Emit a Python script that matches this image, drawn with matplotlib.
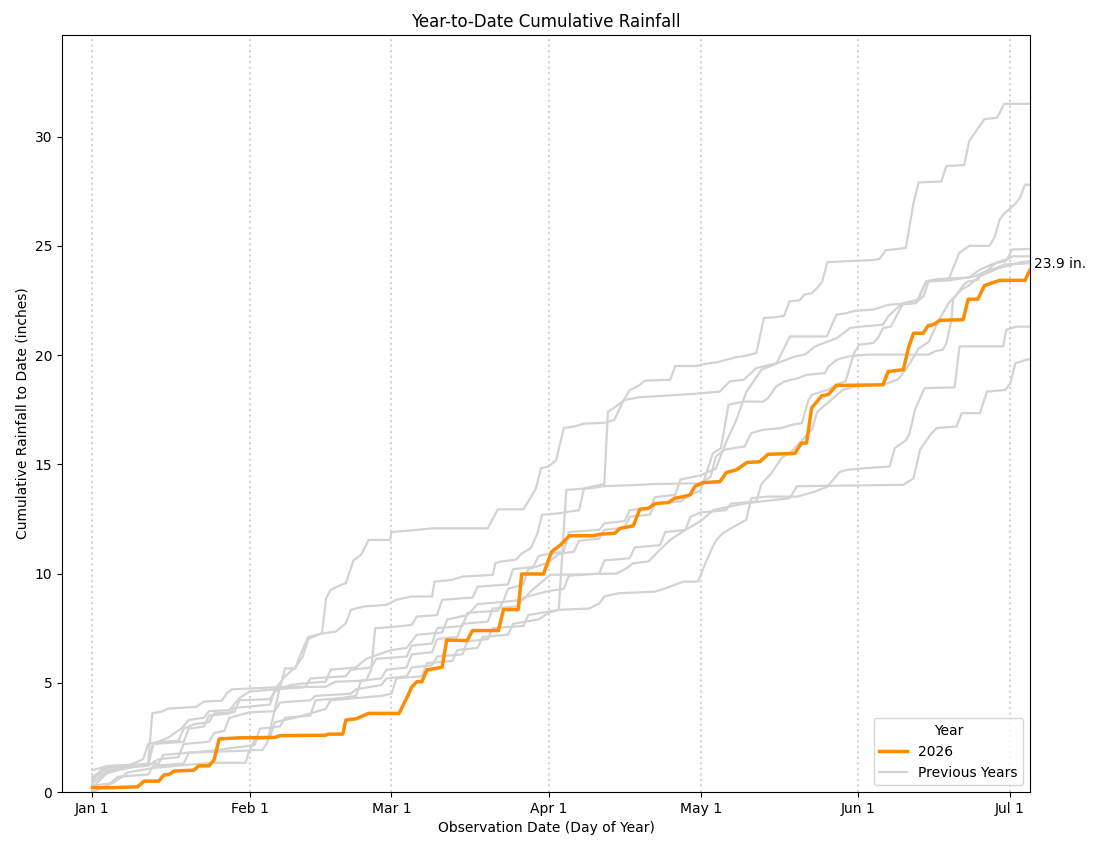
import numpy as np
import matplotlib.pyplot as plt

# day-of-year, cumulative inches
rain_2026 = [(1, 0.2), (5, 0.2), (9.9, 0.24), (11.2, 0.5), (14.1, 0.5), (15.1, 0.78), (16.1, 0.8),
             (17.1, 0.96), (21, 1.0), (22, 1.2), (24, 1.2), (25, 1.47), (26, 2.43), (29.9, 2.48),
             (37, 2.5), (38, 2.58), (47, 2.6), (47.5, 2.65), (50.4, 2.65), (51, 3.3), (53, 3.35),
             (54, 3.45), (55.5, 3.6), (61.5, 3.6), (62, 3.83), (63, 4.3), (64, 4.8), (65, 5.05),
             (66, 5.05), (67, 5.59), (70, 5.71), (70.9, 6.96), (74.9, 6.93), (76, 7.39), (81.1, 7.39),
             (82.1, 8.35), (85, 8.35), (85.7, 9.98), (90, 9.98), (91.6, 11.0), (93.3, 11.3),
             (95.1, 11.73), (99.8, 11.73), (101.2, 11.8), (104.1, 11.85), (105.1, 12.07),
             (107.7, 12.18), (109, 12.94), (110.7, 12.99), (112, 13.2), (114.6, 13.25),
             (115.9, 13.45), (117.6, 13.52), (118.9, 13.6), (119.9, 14.0), (121.5, 14.16),
             (124.8, 14.21), (126.1, 14.63), (128.1, 14.75), (130.1, 15.08), (132.7, 15.12),
             (134.3, 15.46), (139.6, 15.5), (140.9, 15.97), (141.9, 15.97), (142.9, 17.58),
             (144.9, 18.14), (146.2, 18.19), (147.8, 18.61), (157, 18.64), (158, 19.25),
             (161, 19.33), (162, 20.32), (163, 21.0), (164.9, 21.0), (165.9, 21.35), (166.9, 21.39),
             (168.2, 21.59), (172.8, 21.62), (173.8, 22.56), (175.7, 22.56), (177, 23.18),
             (180, 23.42), (185, 23.42), (186, 23.9)]

prev_a = [(1, 0.3), (5, 0.4), (8, 0.9), (13, 1.1), (20, 1.25), (25, 1.34), (31.2, 1.34), (32, 1.92),
          (34.5, 1.92), (35.5, 2.26), (36.8, 3.6), (38, 4.8), (39, 5.66), (41, 5.66), (42.3, 6.43),
          (43.6, 7.1), (46.3, 7.26), (47.1, 8.87), (48, 9.25), (50, 9.48), (51, 9.56), (52.5, 10.6),
          (54, 10.86), (55.5, 11.54), (59.7, 11.54), (60, 11.9), (65, 12.0), (68, 12.07), (79, 12.07),
          (81, 12.94), (86, 12.94), (87, 13.3), (88.5, 13.9), (89.5, 14.82), (91, 14.9), (92.5, 15.2),
          (94, 16.66), (96, 16.73), (98, 16.86), (102, 16.9), (104, 17.04), (105.5, 17.8), (107, 18.4),
          (108, 18.5), (109, 18.64), (110, 18.83), (115, 18.87), (116, 19.5), (120, 19.5), (122, 19.6),
          (124, 19.66), (128, 19.9), (130.5, 20.0), (132, 20.1), (133.5, 21.7), (136, 21.74),
          (137.5, 21.8), (138.5, 22.46), (140.5, 22.5), (141.5, 22.77), (143, 22.84), (144, 23.07),
          (145, 23.37), (146, 24.25), (150, 24.3), (155, 24.35), (156.3, 24.4), (157.5, 24.8),
          (161.5, 24.9), (163, 26.96), (164, 27.9), (168.5, 27.95), (169.5, 28.65), (173, 28.7),
          (174, 29.8), (177, 30.8), (179.5, 30.86), (180.9, 31.5), (186, 31.5)]

prev_b = [(1, 0.5), (3, 1.1), (8, 1.2), (11, 1.5), (12, 2.2), (14, 2.3), (16, 2.5), (18.5, 2.9),
          (20, 3.3), (23, 3.4), (24, 3.7), (28, 3.75), (30, 4.3), (32, 4.6), (37, 4.7), (39, 5.3),
          (41, 5.7), (42.5, 6.2), (43.6, 7.0), (46, 7.25), (49, 7.34), (51, 7.72), (52, 8.34),
          (54.5, 8.49), (59, 8.57), (61, 8.8), (64, 8.95), (68, 8.95), (68.5, 9.63), (72, 9.71),
          (74, 9.86), (80, 9.94), (80.5, 10.47), (81.5, 10.55), (84.5, 10.63), (85.8, 10.93),
          (87.5, 11.16), (88.8, 11.84), (89.7, 12.69), (93, 12.76), (97, 12.9), (98, 13.9),
          (102, 14.1), (102.7, 17.4), (104, 17.6), (106, 17.95), (109, 18.07), (120, 18.23),
          (124.8, 18.33), (126.8, 18.8), (129.5, 18.87), (132, 19.4), (136, 19.63), (138.6, 20.85),
          (145.9, 20.85), (147.8, 21.85), (149.8, 21.92), (151.5, 22.03), (155, 22.08), (158, 22.3),
          (163.5, 22.4), (165, 22.7), (166, 23.4), (170, 23.5), (171.5, 24.37), (172, 24.67),
          (174, 25.0), (178, 25.0), (179, 25.4), (180, 26.2), (181, 26.5), (183, 26.9), (184, 27.2),
          (185, 27.8), (186, 27.8)]

prev_c = [(1, 0.7), (3, 1.0), (5, 1.15), (8, 1.2), (12, 1.3), (12.8, 3.6), (14.5, 3.67), (16, 3.82),
          (21.5, 3.9), (23, 4.14), (26.5, 4.18), (27.5, 4.52), (28.5, 4.7), (32, 4.74), (38, 4.8),
          (47, 4.82), (49, 5.05), (55, 5.1), (56, 5.6), (56.8, 7.5), (60, 7.55), (64, 7.65),
          (65, 8.03), (69, 8.1), (70, 8.8), (76, 8.9), (77, 9.4), (83, 9.5), (84, 10.2), (88, 10.3),
          (89, 10.8), (91, 10.9), (94, 11.0), (95, 11.9), (101, 12.0), (102, 12.3), (106, 12.4),
          (107, 12.9), (111, 13.0), (112, 13.5), (116, 13.6), (117, 14.3), (121, 14.5), (124, 14.8),
          (126, 16.0), (128, 17.0), (130, 18.3), (133, 19.33), (137, 19.71), (139.6, 19.94),
          (141.6, 20.02), (143.6, 20.4), (147.9, 20.78), (150.5, 21.24), (152.5, 21.3), (157, 21.39),
          (158, 21.77), (160.5, 22.31), (163.5, 22.38), (165.5, 23.37), (167.8, 23.48), (174, 23.55),
          (176, 23.9), (179, 24.2), (181.5, 24.4), (182.5, 24.83), (186, 24.86)]

prev_d = [(1, 0.2), (4, 0.9), (7, 1.1), (12, 1.2), (14, 1.5), (18, 1.6), (19, 2.2), (24, 2.3),
          (25, 2.7), (27, 2.8), (28, 3.4), (32, 3.65), (37, 3.7), (38, 4.1), (44, 4.2), (45, 4.4),
          (52, 4.5), (53, 4.7), (58, 4.9), (59, 5.2), (63, 5.3), (64, 5.7), (68, 5.8), (69, 6.2),
          (74, 6.3), (75, 6.9), (79, 7.0), (80, 7.5), (86, 7.6), (87, 8.1), (93, 8.34), (94.5, 13.83),
          (99, 13.9), (102, 14.0), (108, 14.05), (112, 14.1), (121, 14.13), (123, 14.44), (124, 15.36),
          (125.7, 15.67), (129.7, 15.82), (131, 16.43), (133.3, 16.58), (137, 16.66), (139, 16.81),
          (141, 16.89), (142.3, 17.96), (143, 18.19), (146.3, 18.42), (147.6, 18.64), (149.6, 18.8),
          (151.3, 20.1), (152.3, 20.48), (155, 20.55), (156, 20.78), (157, 21.24), (158.5, 21.3),
          (161, 22.38), (164, 22.54), (165.5, 23.37), (170, 23.42), (175, 23.6), (177, 23.8),
          (179.5, 24.0), (181, 24.15), (186, 24.2)]

prev_e = [(1, 0.6), (3, 0.9), (6, 1.1), (10, 1.2), (12, 1.25), (13, 2.2), (15, 2.3), (18, 2.35),
          (19, 2.9), (21, 3.1), (24, 3.2), (25, 3.6), (29, 3.65), (30, 4.2), (36, 4.25), (37, 4.6),
          (40, 4.9), (44, 5.0), (47, 5.05), (48, 5.6), (53, 5.7), (55, 6.1), (60, 6.5), (63, 6.6),
          (65, 7.2), (70, 7.3), (71, 7.9), (75, 8.1), (77, 8.6), (82, 8.7), (83, 9.3), (86, 9.5),
          (87, 10.2), (91, 10.5), (93, 10.9), (96, 11.0), (97, 11.5), (101, 11.6), (102, 12.0),
          (106, 12.1), (107, 12.6), (111, 12.7), (112, 13.2), (117, 13.3), (119, 13.6), (121, 13.8),
          (123.4, 15.5), (125, 15.74), (126.5, 17.73), (129.5, 17.87), (133.3, 17.87), (134.3, 18.03),
          (135.9, 18.56), (137.6, 18.8), (140.2, 18.94), (141.9, 19.1), (145.5, 19.17), (146.2, 19.47),
          (147.9, 19.79), (150.2, 19.94), (153.8, 20.02), (166, 20.02), (167.2, 20.17), (168.8, 20.25),
          (169.5, 20.55), (170.5, 21.62), (170.8, 22.54), (172.2, 23.0), (172.9, 23.22), (173.8, 23.37),
          (175.8, 23.45), (176.1, 23.68), (177.8, 23.91), (179.2, 24.21), (180.9, 24.28),
          (182.5, 24.52), (186, 24.52)]

prev_f = [(1, 1.0), (4, 1.2), (9, 1.25), (14, 1.3), (15, 1.7), (20, 1.8), (25, 1.9), (28, 2.0),
          (33, 2.15), (34, 2.9), (38, 3.0), (39, 3.4), (44, 3.5), (45, 4.2), (50, 4.3), (53, 4.4),
          (54, 5.1), (58, 5.2), (59, 5.6), (63, 5.7), (64, 6.3), (68, 6.4), (69, 7.0), (73, 7.1),
          (74, 7.7), (79, 7.8), (80, 8.4), (85, 8.5), (86, 8.9), (91, 9.2), (94, 9.3), (95, 9.9),
          (101, 10.0), (102, 10.6), (107, 10.7), (108, 11.2), (113, 11.3), (114, 11.9), (118, 12.0),
          (119, 12.6), (121, 12.8), (126, 12.9), (127, 13.2), (132, 13.3), (133, 14.1), (135, 14.6),
          (137, 15.3), (139, 15.6), (141, 16.1), (143, 16.6), (144, 17.4), (147, 18.0), (149, 18.4),
          (152, 18.6), (157, 18.64), (160, 18.9), (162, 19.5), (164, 20.3), (166, 20.6), (168, 21.6),
          (170, 22.4), (172.5, 23.0), (174, 23.2), (176, 23.6), (178, 23.8), (180, 24.0), (182, 24.1),
          (184, 24.25), (186, 24.3)]

prev_g = [(1, 0.0), (4, 0.3), (6, 0.7), (12, 0.8), (13, 1.2), (19, 1.3), (20, 1.8), (32, 1.9),
          (33, 2.4), (36, 2.5), (37, 3.2), (41, 3.4), (44, 3.6), (47, 3.8), (48, 4.2), (58, 4.4),
          (60, 4.5), (61, 5.2), (66, 5.3), (67, 5.9), (72, 6.0), (73, 6.5), (77, 6.6), (78, 7.1),
          (83, 7.2), (84, 7.7), (89, 7.9), (91, 8.2), (93, 8.34), (99, 8.4), (101, 8.63), (102, 8.95),
          (104.8, 9.1), (112, 9.17), (114, 9.32), (117.6, 9.63), (120.5, 9.63), (121.8, 10.4),
          (123.1, 11.08), (124.1, 11.54), (125.4, 11.85), (127, 12.07), (130, 12.46), (131, 13.45),
          (134, 13.52), (140, 13.52), (143.5, 13.75), (146, 13.98), (148.5, 14.66), (150, 14.75),
          (153.3, 14.82), (158.3, 14.9), (159.3, 15.74), (161.6, 16.12), (162.2, 16.4), (163.3, 17.5),
          (165.2, 18.49), (171.1, 18.52), (172.1, 20.4), (180.7, 20.4), (181.3, 21.16), (183.3, 21.3),
          (186, 21.3)]

prev_h = [(1, 0.4), (3, 0.8), (6, 1.0), (10, 1.2), (12, 1.3), (13, 2.2), (19, 2.3), (20, 2.9),
          (23, 3.0), (24, 3.5), (28, 3.6), (29, 3.85), (36, 4.0), (37, 4.7), (43, 4.8), (44, 5.2),
          (51, 5.3), (52, 5.6), (56, 5.7), (57, 6.1), (63, 6.2), (64, 6.7), (68, 6.8), (69, 7.5),
          (74, 7.6), (75, 8.2), (81, 8.3), (82, 8.7), (86, 8.8), (87.4, 9.17), (91.3, 9.94),
          (104.4, 10.0), (106.4, 10.24), (107.7, 10.47), (110.7, 10.55), (112.3, 10.93), (115, 11.54),
          (118, 12.0), (121, 12.4), (123.5, 12.9), (129.4, 13.2), (133, 13.3), (138.6, 13.45),
          (140, 14.0), (161, 14.06), (163, 14.36), (164.3, 15.67), (166.3, 16.35), (167.6, 16.66),
          (171.5, 16.73), (172.5, 17.34), (176.1, 17.34), (177.5, 18.33), (181.1, 18.4), (182.1, 18.7),
          (183.1, 19.63), (185.5, 19.8), (186, 19.8)]

previous_years = [prev_a, prev_b, prev_c, prev_d, prev_e, prev_f, prev_g, prev_h]

month_days = [1, 32, 60, 91, 121, 152, 182]
month_labels = ["Jan 1", "Feb 1", "Mar 1", "Apr 1", "May 1", "Jun 1", "Jul 1"]

fig, ax = plt.subplots(figsize=(11, 8.5), dpi=100)
fig.subplots_adjust(left=0.0564, right=0.9364, bottom=0.0682, top=0.9588)

for i, series in enumerate(previous_years):
    d, v = zip(*series)
    ax.plot(d, v, color="lightgray", lw=1.6, label="Previous Years" if i == 0 else None, zorder=2)

d, v = zip(*rain_2026)
ax.plot(d, v, color="darkorange", lw=2.5, label="2026", zorder=3)

ax.annotate(f"{v[-1]:.1f} in.", xy=(d[-1], v[-1]), xytext=(3, 4),
            textcoords="offset points", va="center", ha="left")

top = max(max(s[1] for s in series) for series in previous_years)
ax.set_xlim(-5, d[-1])
ax.set_ylim(0, top * 1.1)
ax.set_xticks(month_days)
ax.set_xticklabels(month_labels)
ax.grid(axis="x", linestyle=":", color="lightgray", lw=1.5)

ax.set_title("Year-to-Date Cumulative Rainfall")
ax.set_xlabel("Observation Date (Day of Year)")
ax.set_ylabel("Cumulative Rainfall to Date (inches)")

handles, labels = ax.get_legend_handles_labels()
order = [labels.index("2026"), labels.index("Previous Years")]
ax.legend([handles[k] for k in order], [labels[k] for k in order], title="Year", loc="lower right")

plt.savefig("out.png")
